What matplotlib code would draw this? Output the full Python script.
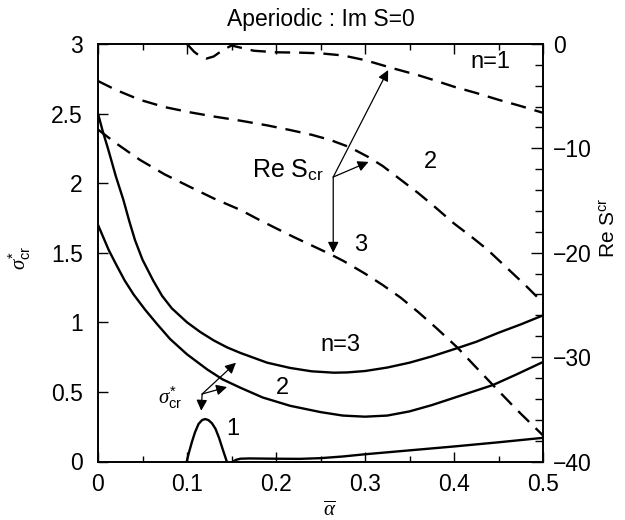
import numpy as np
import matplotlib
matplotlib.use("Agg")
import matplotlib.pyplot as plt

plt.rcParams['font.family'] = ['Liberation Sans', 'DejaVu Sans']
plt.rcParams['mathtext.fontset'] = 'custom'
plt.rcParams['mathtext.rm'] = 'Liberation Sans'
plt.rcParams['mathtext.it'] = 'Liberation Serif:italic'
plt.rcParams['axes.linewidth'] = 1.2

# critical growth rate sigma*_cr (left axis), modes n=1..3
n1a_alpha = [0.0997, 0.102, 0.1055, 0.109, 0.113, 0.117, 0.1204, 0.124,
             0.128, 0.132, 0.136, 0.14, 0.1447]
n1a_sigma = [0.0, 0.06, 0.14, 0.21, 0.27, 0.298, 0.305, 0.298,
             0.275, 0.235, 0.17, 0.09, 0.0]
n1b_alpha = [0.152, 0.155, 0.16, 0.17, 0.2, 0.227, 0.25, 0.275, 0.3, 0.35,
             0.4, 0.45, 0.5]
n1b_sigma = [0.0, 0.012, 0.02, 0.022, 0.02, 0.019, 0.024, 0.036, 0.052, 0.08,
             0.108, 0.138, 0.17]

n2_alpha = [0.0, 0.006, 0.012, 0.02, 0.03, 0.04, 0.053, 0.066, 0.081, 0.1,
            0.123, 0.14, 0.16, 0.185, 0.216, 0.25, 0.275, 0.3, 0.325, 0.35,
            0.375, 0.404, 0.425, 0.444, 0.47, 0.5]
n2_sigma = [1.70, 1.61, 1.52, 1.42, 1.30, 1.20, 1.09, 0.99, 0.88, 0.77,
            0.66, 0.59, 0.53, 0.46, 0.40, 0.355, 0.33, 0.322, 0.33, 0.36,
            0.405, 0.466, 0.51, 0.55, 0.625, 0.715]

n3_alpha = [0.0, 0.005, 0.0116, 0.02, 0.0285, 0.035, 0.0416, 0.05, 0.062,
            0.072, 0.083, 0.1, 0.115, 0.13, 0.145, 0.16, 0.19, 0.216, 0.24,
            0.265, 0.28, 0.3, 0.325, 0.35, 0.375, 0.404, 0.425, 0.45, 0.475, 0.5]
n3_sigma = [2.5, 2.38, 2.24, 2.05, 1.88, 1.73, 1.59, 1.45, 1.30,
            1.19, 1.10, 1.0, 0.93, 0.87, 0.82, 0.78, 0.71, 0.672, 0.648,
            0.638, 0.64, 0.65, 0.675, 0.71, 0.755, 0.815, 0.86, 0.925, 0.985, 1.05]

# Re S_cr (right axis)
s1_alpha = [0.1, 0.108, 0.115, 0.122, 0.13, 0.14, 0.15, 0.16, 0.175, 0.2,
            0.225, 0.25, 0.275, 0.3, 0.33, 0.36, 0.375, 0.4, 0.425, 0.45,
            0.475, 0.5]
s1_re = [0.0, -0.75, -1.2, -1.4, -1.2, -0.6, -0.15, -0.35, -0.65, -0.8,
         -0.83, -0.9, -1.1, -1.55, -2.3, -3.0, -3.4, -4.1, -4.7, -5.35,
         -5.95, -6.6]

s2_alpha = [0.0, 0.02, 0.047, 0.075, 0.1035, 0.13, 0.16, 0.19, 0.216, 0.24,
            0.261, 0.283, 0.303, 0.32, 0.34, 0.36, 0.377, 0.4, 0.42, 0.4375,
            0.46, 0.48, 0.5]
s2_re = [-3.55, -4.4, -5.35, -6.05, -6.55, -6.95, -7.35, -7.8, -8.25, -8.7,
         -9.2, -9.9, -10.8, -11.7, -13.0, -14.3, -15.5, -17.2, -18.5, -19.7,
         -21.5, -23.1, -24.8]

s3_alpha = [0.0, 0.02, 0.047, 0.075, 0.1035, 0.13, 0.16, 0.18, 0.201, 0.22,
            0.24, 0.26, 0.276, 0.3, 0.32, 0.34, 0.36, 0.38, 0.404, 0.425,
            0.444, 0.47, 0.5]
s3_re = [-8.2, -9.5, -11.1, -12.5, -13.7, -14.8, -15.9, -16.8, -17.7, -18.5,
         -19.3, -20.1, -20.8, -22.0, -23.1, -24.3, -25.7, -27.2, -29.1, -31.0,
         -32.7, -35.0, -37.5]

fig = plt.figure(figsize=(6.25, 5.2), dpi=100)
ax = fig.add_axes([0.1568, 0.1125, 0.712, 0.803])
ax2 = ax.twinx()

lw = 1.7
for xs, ys in [(n1a_alpha, n1a_sigma), (n1b_alpha, n1b_sigma),
               (n2_alpha, n2_sigma), (n3_alpha, n3_sigma)]:
    ax.plot(xs, ys, color='black', lw=lw, solid_capstyle='butt',
            solid_joinstyle='round')

for xs, ys in [(s1_alpha, s1_re), (s2_alpha, s2_re), (s3_alpha, s3_re)]:
    ax2.plot(xs, ys, color='black', lw=lw, dashes=(6.5, 3.8))

ax.set_xlim(0, 0.5)
ax.set_ylim(0, 3)
ax2.set_ylim(-40, 0)

ax.set_xticks(np.arange(0, 0.51, 0.1))
ax.set_xticklabels(['0', '0.1', '0.2', '0.3', '0.4', '0.5'])
ax.set_xticks(np.arange(0.05, 0.5, 0.1), minor=True)
ax.set_yticks(np.arange(0, 3.01, 0.5))
ax.set_yticklabels(['0', '0.5', '1', '1.5', '2', '2.5', '3'])
ax2.set_yticks([-40, -30, -20, -10, 0])
ax2.set_yticklabels(['\u221240', '\u221230', '\u221220', '\u221210', '0'])
ax2.set_yticks(np.arange(-38, 0, 2), minor=True)

ax.tick_params(axis='x', which='both', direction='in', top=True, labelsize=16.5, pad=8)
ax.tick_params(axis='x', which='major', length=7, width=1)
ax.tick_params(axis='x', which='minor', length=4, width=1)
ax.tick_params(axis='y', which='major', direction='in', length=7, width=1,
               labelsize=16.5, pad=11, right=False)
ax2.tick_params(axis='y', which='major', direction='in', length=9, width=1,
                labelsize=16.5, pad=7)
ax2.tick_params(axis='y', which='minor', direction='in', length=6, width=1)

ax.set_title('Aperiodic : Im S=0', fontsize=16.5, pad=13)
ax.set_xlabel(r'$\overline{\alpha}$', fontsize=15)
ax.xaxis.set_label_coords(0.521, -0.092)
ax.set_ylabel(r'$\sigma^{*}_{\rm cr}$', fontsize=15)
ax.yaxis.set_label_coords(-0.146, 0.487)
ax2.set_ylabel(r'Re S$^{\rm cr}$', fontsize=15)
ax2.yaxis.set_label_coords(1.127, 0.56)

# curve labels
ax.text(0.441, 2.87, 'n=1', fontsize=17, ha='center', va='center')
ax.text(0.3735, 2.15, '2', fontsize=17, ha='center', va='center')
ax.text(0.2947, 1.555, '3', fontsize=17, ha='center', va='center')
ax.text(0.272, 0.835, 'n=3', fontsize=17, ha='center', va='center')
ax.text(0.207, 0.528, '2', fontsize=17, ha='center', va='center')
ax.text(0.152, 0.23, '1', fontsize=17, ha='center', va='center')

arrow = dict(arrowstyle='-|>', color='black', lw=0.9, mutation_scale=16,
             shrinkA=0, shrinkB=0)

# Re S_cr pointer
ax2.text(0.254, -12.8, r'Re S$_{\rm cr}$', fontsize=18, ha='right', va='baseline')
re_origin = (0.2643, -12.75)
for tip in [(0.326, -2.5), (0.304, -11.3), (0.2643, -20.0)]:
    ax2.annotate('', xy=tip, xytext=re_origin, arrowprops=arrow)

# sigma*_cr pointer
ax.text(0.081, 0.46, r'$\sigma^{*}_{\rm cr}$', fontsize=15, ha='center', va='center')
sig_origin = (0.117, 0.485)
for tip in [(0.155, 0.71), (0.145, 0.535), (0.116, 0.365)]:
    ax.annotate('', xy=tip, xytext=sig_origin, arrowprops=arrow)

fig.savefig('out.png', dpi=100)
